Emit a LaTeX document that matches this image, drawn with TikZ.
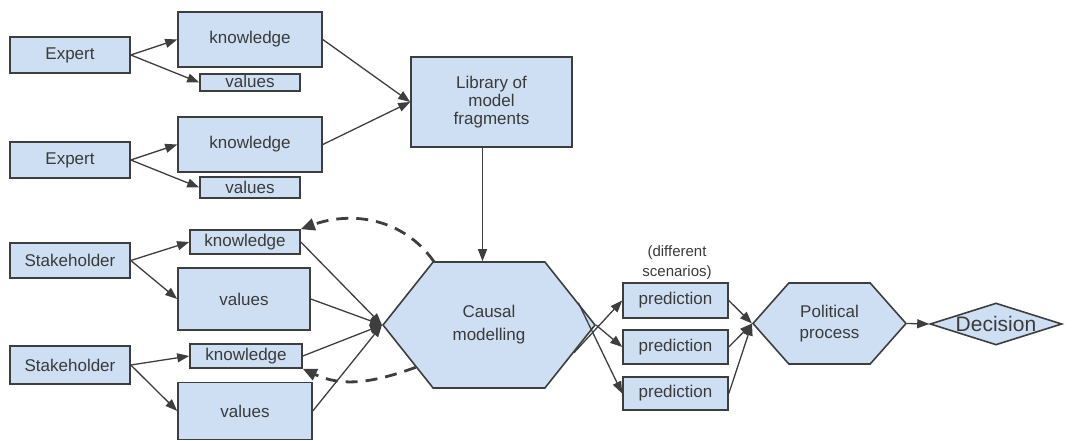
\documentclass[tikz,border=0pt]{standalone}
\usepackage{fontspec}
\setmainfont{Liberation Sans}
\usetikzlibrary{arrows.meta,shapes.geometric,shapes.symbols}
\definecolor{boxfill}{RGB}{206,223,244}
\definecolor{edgegray}{RGB}{62,62,62}
\definecolor{textgray}{RGB}{58,58,58}

\begin{document}
\begin{tikzpicture}[x=1pt, y=1pt,
		every node/.style = {text=textgray, font=\fontsize{17}{20}\selectfont},
		box/.style = {draw=edgegray, line width=1.6pt, fill=boxfill, inner sep=0pt, align=center},
		hexa/.style = {box, signal, signal to=west and east},
		arr/.style = {draw=edgegray, line width=1.3pt, -{Triangle[length=12pt,width=9pt]}},
		back/.style = {arr, line width=2.8pt, dash pattern=on 12pt off 8pt, -{Triangle[length=14pt,width=12pt]}}]

	\useasboundingbox (0,0) rectangle (1078,440);

	% experts
	\node[box, minimum width=120pt, minimum height=36pt] (exp1) at (70,385) {Expert};
	\node[box, minimum width=144pt, minimum height=55pt] (kn1) at (250,400.5) {knowledge};
	\node[box, minimum width=100pt, minimum height=17pt, text height=11pt, text depth=1pt] (val1) at (250,357.5) {values};
	\node[box, minimum width=120pt, minimum height=36pt] (exp2) at (70,280) {Expert};
	\node[box, minimum width=144pt, minimum height=55pt] (kn2) at (250,295.5) {knowledge};
	\node[box, minimum width=100pt, minimum height=21pt] (val2) at (250,252.5) {values};
	\node[box, minimum width=161pt, minimum height=90pt, font=\fontsize{17}{18}\selectfont] (lib) at (491.5,338) {Library of\\model\\fragments};

	% stakeholders
	\node[box, minimum width=120pt, minimum height=35pt] (st1) at (70,179.5) {Stakeholder};
	\node[box, minimum width=110pt, minimum height=24pt] (kn3) at (245,198) {knowledge};
	\node[box, minimum width=132pt, minimum height=62pt] (val3) at (244,141) {values};
	\node[box, minimum width=120pt, minimum height=38pt] (st2) at (70,75) {Stakeholder};
	\node[box, minimum width=112pt, minimum height=24pt] (kn4) at (246,84) {knowledge};
	\node[box, minimum width=134pt, minimum height=57pt] (val4) at (245,29) {values};

	% modelling and decision
	\node[hexa, signal pointer angle=103, minimum width=212pt, minimum height=126pt, font=\fontsize{17}{23}\selectfont] (causal) at (489,115) {Causal\\modelling};
	\node[align=center, font=\fontsize{15}{20}\selectfont] (scen) at (677,177) {(different\\scenarios)};
	\node[box, minimum width=105pt, minimum height=35pt] (pr1) at (675.5,139.5) {prediction};
	\node[box, minimum width=105pt, minimum height=34pt] (pr2) at (675.5,93) {prediction};
	\node[box, minimum width=105pt, minimum height=33pt] (pr3) at (675.5,46.5) {prediction};
	\node[hexa, signal pointer angle=97, minimum width=153pt, minimum height=81pt, font=\fontsize{17}{21}\selectfont] (pol) at (829.5,116.5) {Political\\process};
	\node[box, diamond, minimum width=132pt, minimum height=42pt,
		label={[font=\fontsize{21}{24}\selectfont]center:Decision}] (dec) at (996,116) {};

	\draw[arr] (exp1.east) -- (kn1.west);
	\draw[arr] (exp1.east) -- (val1.west);
	\draw[arr] (exp2.east) -- (kn2.west);
	\draw[arr] (exp2.east) -- (val2.west);
	\draw[arr] (kn1.east) -- (lib.west);
	\draw[arr] (kn2.east) -- (lib.west);
	\draw[arr] ([xshift=-9pt]lib.south) -- ([xshift=-9pt]lib.south |- causal.north);

	\draw[arr] (st1.east) -- (kn3.west);
	\draw[arr] (st1.east) -- (val3.west);
	\draw[arr] (st2.east) -- (kn4.west);
	\draw[arr] (st2.east) -- (val4.west);
	\foreach \src in {kn3,val3,kn4,val4}
		\draw[arr] (\src.east) -- (causal.west);
	\draw[back] (causal.131) to[out=125, in=20] (kn3.north east);
	\draw[back] (causal.210) to[out=200, in=-25] (kn4.south east);

	\draw[arr] (causal.-18) -- (pr1.west);
	\draw[arr] (causal.east) -- (pr2.west);
	\draw[arr] (causal.14) -- (pr3.west);
	\foreach \src in {pr1,pr2,pr3}
		\draw[arr] (\src.east) -- (pol.west);
	\draw[arr] (pol.east) -- (dec.west);
\end{tikzpicture}
\end{document}
